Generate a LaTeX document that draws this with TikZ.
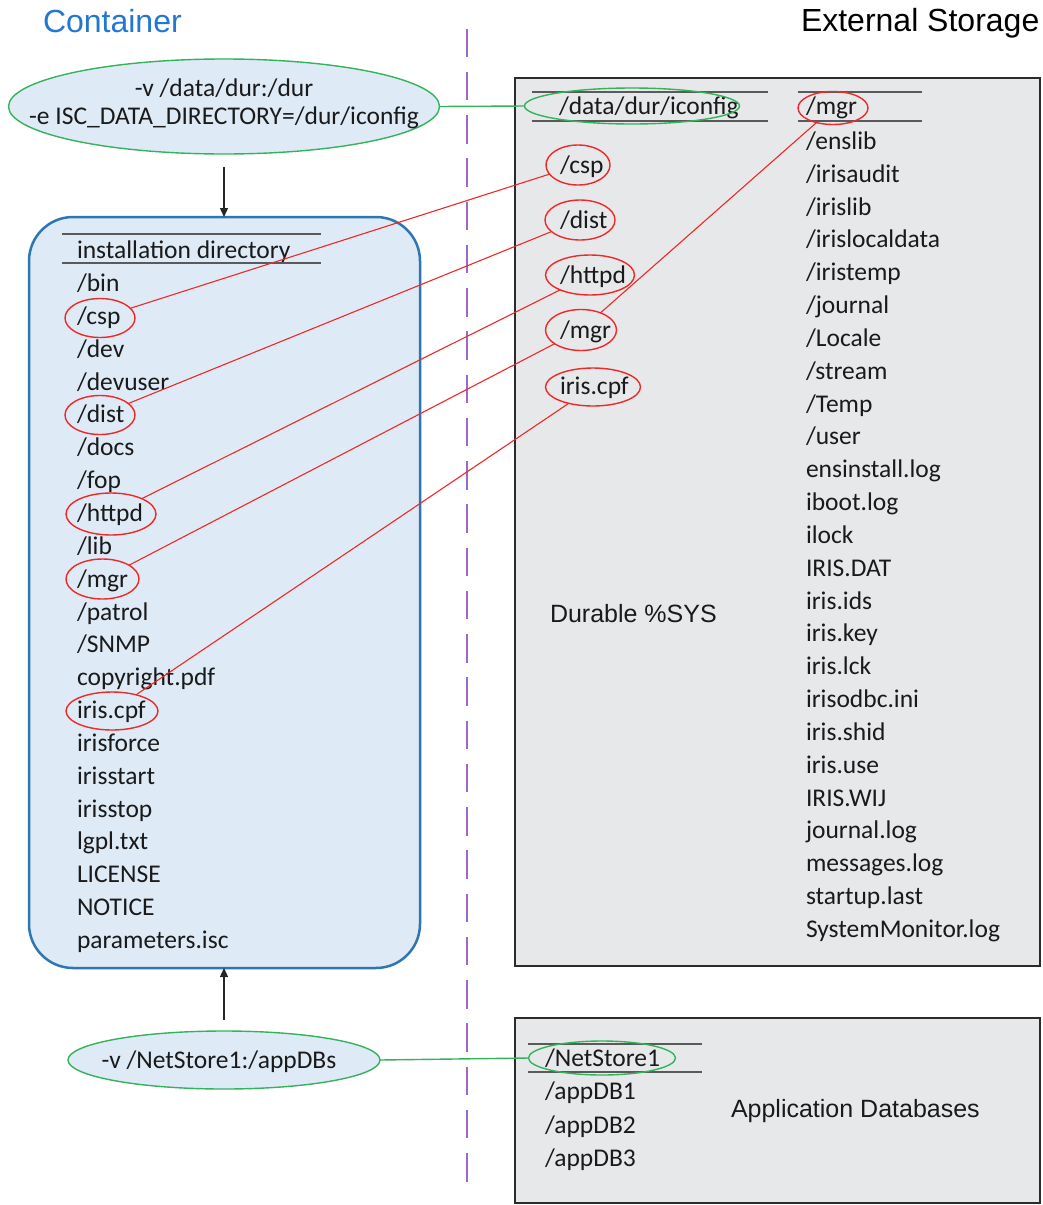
\documentclass[tikz,border=0pt]{standalone}
\usepackage{fontspec}
\setmainfont{Carlito}
\newfontfamily\arialf{Liberation Sans}
\usetikzlibrary{shapes.geometric,arrows.meta}
\definecolor{bluefill}{HTML}{DEEAF6}
\definecolor{blueborder}{HTML}{2E75B6}
\definecolor{grayfill}{HTML}{E6E8EA}
\definecolor{grayborder}{HTML}{2B2B2B}
\definecolor{greenc}{HTML}{33B35A}
\definecolor{redc}{HTML}{F02828}
\definecolor{purplec}{HTML}{A066C8}
\definecolor{titleblue}{HTML}{2277D0}
\definecolor{hdrc}{HTML}{5A5A5A}
\definecolor{txt}{HTML}{1A1A1A}
\begin{document}
\begin{tikzpicture}[x=1pt,y=-1pt,
  every node/.style={inner sep=0pt, outer sep=0pt},
  itm/.style={anchor=west, font=\fontsize{25.5}{30}\selectfont, text=txt, text height=21pt, text depth=4pt},
  ctr/.style={font=\fontsize{25.5}{30}\selectfont, text=txt, text height=21pt, text depth=4pt},
  title/.style={anchor=base west, font=\arialf\fontsize{32}{38}\selectfont},
  label/.style={anchor=base west, font=\arialf\fontsize{25}{30}\selectfont, text=txt},
  sz/.style n args={2}{minimum width=#1, minimum height=#2},
  redell/.style={ellipse, draw=redc, line width=1.4pt},
  greenell/.style={ellipse, draw=greenc, line width=1.4pt},
  mountell/.style={ellipse, draw=greenc, line width=1.4pt, fill=bluefill},
  redline/.style={draw=redc, line width=1.1pt},
  greenline/.style={draw=greenc, line width=1.4pt},
  hdrline/.style={draw=hdrc, line width=2pt},
  storebox/.style={fill=grayfill, draw=grayborder, line width=2.5pt},
  flowarrow/.style={draw=black!85, line width=1.3pt, -{Triangle[length=9pt,width=8pt]}},
]
\useasboundingbox (0,0) rectangle (1042,1205);

% titles
\node[title, text=titleblue] (tcont) at (43,32) {Container};
\node[title, text=black] (text) at (801,31) {External Storage};

% divider
\coordinate (dtop) at (467,28.5);
\coordinate (dbot) at (467,1181.5);
\draw[draw=purplec, line width=2pt, dash pattern=on 28.5pt off 14.75pt] (dtop) -- (dbot);

% container box
\node[draw=blueborder, fill=bluefill, line width=2.5pt, rounded corners=44pt, sz={391}{751}] (cbox) at (224.5,592.5) {};

% storage boxes
\node[storebox, sz={525}{888}] (sbox) at (777.5,522) {};
\node[storebox, sz={525}{185}] (abox) at (777.5,1110.5) {};

% mount ellipses
\node[mountell, sz={431}{95}] (vol1) at (224,106.5) {};
\node[ctr] (vol1a) at (224,87.5) {-v /data/dur:/dur};
\node[ctr] (vol1b) at (224,116) {-e ISC\_DATA\_DIRECTORY=/dur/iconfig};
\node[mountell, sz={312}{58}] (vol2) at (224,1060) {};
\node[ctr] (vol2a) at (219,1060) {-v /NetStore1:/appDBs};

% arrows
\coordinate (a1s) at (224,167);
\coordinate (a2s) at (224,1020);
\draw[flowarrow] (a1s) -- (cbox.north -| a1s);
\draw[flowarrow] (a2s) -- (cbox.south -| a2s);

% container header
\coordinate (ch1a) at (62,234); \coordinate (ch1b) at (321,234);
\coordinate (ch2a) at (62,263); \coordinate (ch2b) at (321,263);
\draw[hdrline] (ch1a) -- (ch1b);
\draw[hdrline] (ch2a) -- (ch2b);
\node[itm] (chead) at (77,250) {installation directory};

% container list
\foreach \t [count=\i from 0] in {/bin,/csp,/dev,/devuser,/dist,/docs,/fop,/httpd,/lib,/mgr,/patrol,/SNMP,copyright.pdf,iris.cpf,irisforce,irisstart,irisstop,lgpl.txt,LICENSE,NOTICE,parameters.isc}
  \node[itm] (L\i) at (77,{283+\i*32.85}) {\t};

% durable %SYS headers
\coordinate (dh1a) at (532,92); \coordinate (dh1b) at (768,92);
\coordinate (dh2a) at (532,121); \coordinate (dh2b) at (768,121);
\draw[hdrline] (dh1a) -- (dh1b);
\draw[hdrline] (dh2a) -- (dh2b);
\coordinate (mh1a) at (798,92); \coordinate (mh1b) at (922,92);
\coordinate (mh2a) at (798,121); \coordinate (mh2b) at (922,121);
\draw[hdrline] (mh1a) -- (mh1b);
\draw[hdrline] (mh2a) -- (mh2b);
\node[itm] (dhead) at (559,106) {/data/dur/iconfig};
\node[itm] (mhead) at (806,106) {/mgr};

% durable left items
\node[itm] (Dcsp) at (560,165) {/csp};
\node[itm] (Ddist) at (560,220) {/dist};
\node[itm] (Dhttpd) at (560,275) {/httpd};
\node[itm] (Dmgr) at (560,330) {/mgr};
\node[itm] (Dcpf) at (560,386) {iris.cpf};

% mgr list
\foreach \t [count=\i from 1] in {/enslib,/irisaudit,/irislib,/irislocaldata,/iristemp,/journal,/Locale,/stream,/Temp,/user,ensinstall.log,iboot.log,ilock,IRIS.DAT,iris.ids,iris.key,iris.lck,irisodbc.ini,iris.shid,iris.use,IRIS.WIJ,journal.log,messages.log,startup.last,SystemMonitor.log}
  \node[itm] (R\i) at (806,{141+(\i-1)*32.83}) {\t};

\node[label] (durlab) at (550,622) {Durable \%SYS};

% app DB box
\coordinate (nh1a) at (528,1044); \coordinate (nh1b) at (702,1044);
\coordinate (nh2a) at (528,1072); \coordinate (nh2b) at (702,1072);
\draw[hdrline] (nh1a) -- (nh1b);
\draw[hdrline] (nh2a) -- (nh2b);
\node[itm] (nhead) at (545,1058) {/NetStore1};
\node[itm] (db1) at (545,1091) {/appDB1};
\node[itm] (db2) at (545,1125) {/appDB2};
\node[itm] (db3) at (545,1158) {/appDB3};
\node[label] (applab) at (731,1117) {Application Databases};

% highlight ellipses - left
\node[redell, sz={70}{39}] (ecsp) at (100,318) {};
\node[redell, sz={70}{39}] (edist) at (100,415) {};
\node[redell, sz={90}{42}] (ehttpd) at (111,514) {};
\node[redell, sz={73}{40}] (emgr) at (102.5,579) {};
\node[redell, sz={92}{38}] (ecpf) at (112,711) {};
% highlight ellipses - right
\node[redell, sz={64}{40}] (fcsp) at (578,165) {};
\node[redell, sz={70}{40}] (fdist) at (580,220) {};
\node[redell, sz={89}{40}] (fhttpd) at (590,275) {};
\node[redell, sz={71}{41}] (fmgr) at (581,330) {};
\node[redell, sz={95}{38}] (fcpf) at (593,387) {};
\node[redell, sz={70}{33}] (tmgr) at (833,108) {};
\node[greenell, sz={215}{36}] (eiconf) at (632,106) {};
\node[greenell, sz={147}{34}] (enet) at (602,1058) {};

% connectors
\draw[redline] (ecsp) -- (fcsp);
\draw[redline] (edist) -- (fdist);
\draw[redline] (ehttpd) -- (fhttpd);
\draw[redline] (emgr) -- (fmgr);
\draw[redline] (ecpf) -- (fcpf);
\draw[redline] (fmgr) -- (tmgr);
\draw[greenline] (vol1.east) -- (eiconf.west);
\draw[greenline] (vol2.east) -- (enet.west);
\end{tikzpicture}
\end{document}
